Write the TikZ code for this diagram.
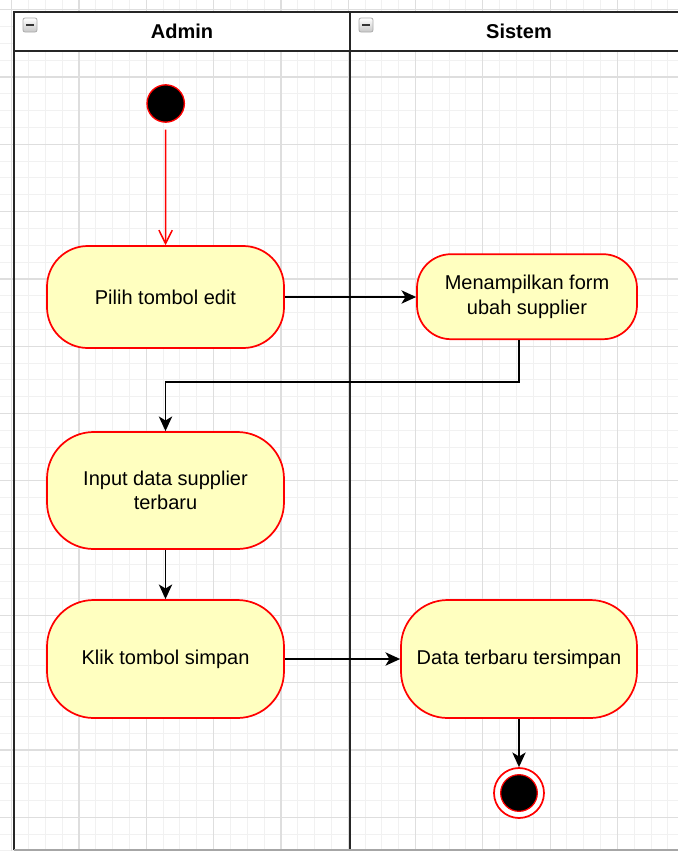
\documentclass[tikz,border=0pt]{standalone}
\usepackage{fontspec}
\setmainfont{Liberation Sans}
\usetikzlibrary{arrows.meta}
\definecolor{actfill}{HTML}{FFFFC0}
\definecolor{actline}{HTML}{FF0000}
\definecolor{gridminor}{HTML}{F1F1F1}
\definecolor{gridmajor}{HTML}{DEDEDE}
\definecolor{poolline}{HTML}{262626}
\begin{document}
\begin{tikzpicture}[x=0.75pt,y=-0.75pt,
  act/.style={draw=actline, fill=actfill, line width=1.3pt, align=center,
    font=\fontsize{15}{18.5}\selectfont, inner sep=0pt, text=black},
  flow/.style={draw=black, line width=1.3pt, -{Stealth[length=11pt,width=10pt,inset=3pt]}},
  startflow/.style={draw=actline, line width=1.1pt, shorten <=5pt, -{Straight Barb[length=10pt,width=10pt,line width=1.1pt]}},
  lanehead/.style={font=\bfseries\fontsize{15}{18}\selectfont, text=black},
  pool/.style={draw=poolline, line width=1.5pt},
  minusicon/.style={minimum size=10.5pt, inner sep=0pt, rounded corners=1.5pt, draw=gray!65, line width=0.6pt,
    top color=white, bottom color=gray!45,
    path picture={\draw[line width=1.3pt, black!80] ([xshift=-3pt]path picture bounding box.center) -- ([xshift=3pt]path picture bounding box.center);}}
]
\useasboundingbox (0,0) rectangle (678,851);
\clip (0,0) rectangle (678,851);
% grid
\foreach \i in {0,...,41} {
  \pgfmathsetmacro\xx{11.7+16.825*\i}
  \draw[gridminor, line width=0.75pt] (\xx,0) -- (\xx,851);
}
\foreach \i in {0,...,50} {
  \pgfmathsetmacro\yy{9.7+16.825*\i}
  \draw[gridminor, line width=0.75pt] (0,\yy) -- (678,\yy);
}
\foreach \i in {0,...,10} {
  \pgfmathsetmacro\xx{11.7+67.3*\i}
  \draw[gridmajor, line width=0.9pt] (\xx,0) -- (\xx,851);
}
\foreach \i in {0,...,12} {
  \pgfmathsetmacro\yy{9.7+67.3*\i}
  \draw[gridmajor, line width=0.9pt] (0,\yy) -- (678,\yy);
}
% pool header
\fill[white] (14,11.7) rectangle (690,50.5);
\draw[pool] (690,11.7) -- (14,11.7) -- (14,850);
\draw[pool] (14,50.5) -- (690,50.5);
\draw[pool] (350.3,11.7) -- (350.3,850);
\draw[gray!70, line width=1.2pt] (14,850) -- (690,850);
\node[lanehead] (hadmin) at (182,31) {Admin};
\node[lanehead] (hsistem) at (519,31) {Sistem};
\node[minusicon] (iconadmin) at (30,25) {};
\node[minusicon] (iconsistem) at (366,25) {};
% nodes
\node[circle, fill=black, draw=actline, line width=1pt, minimum size=28pt, inner sep=0pt] (start) at (165.7,103.5) {};
\node[act, minimum width=177.75pt, minimum height=76.5pt, rounded corners=30.6pt] (pil) at (165.5,297) {Pilih tombol edit};
\node[act, minimum width=165pt, minimum height=63.75pt, rounded corners=25.5pt] (men) at (527,296.7) {Menampilkan form\\ubah supplier};
\node[act, minimum width=177.75pt, minimum height=87.75pt, rounded corners=35pt] (inp) at (165.5,490.5) {Input data supplier\\terbaru};
\node[act, minimum width=177.75pt, minimum height=88.5pt, rounded corners=35pt] (klik) at (165.5,659) {Klik tombol simpan};
\node[act, minimum width=177pt, minimum height=88.5pt, rounded corners=35pt] (dat) at (519,659) {Data terbaru tersimpan};
\node[circle, fill=white, draw=actline, line width=1.3pt, minimum size=37.5pt, inner sep=0pt] (endo) at (519,793) {};
\node[circle, fill=black, draw=actline, line width=0.9pt, minimum size=27.5pt, inner sep=0pt] (endi) at (519,793) {};
\coordinate (turn) at (519,381.7);
% connectors
\draw[startflow] (start) -- (pil);
\draw[flow] (pil.east) -- (pil.east -| men.west);
\draw[flow] (men.south -| dat.north) -- (turn) -| (inp.north);
\draw[flow] (inp) -- (klik);
\draw[flow] (klik) -- (dat);
\draw[flow] (dat) -- (endo);
\end{tikzpicture}
\end{document}
